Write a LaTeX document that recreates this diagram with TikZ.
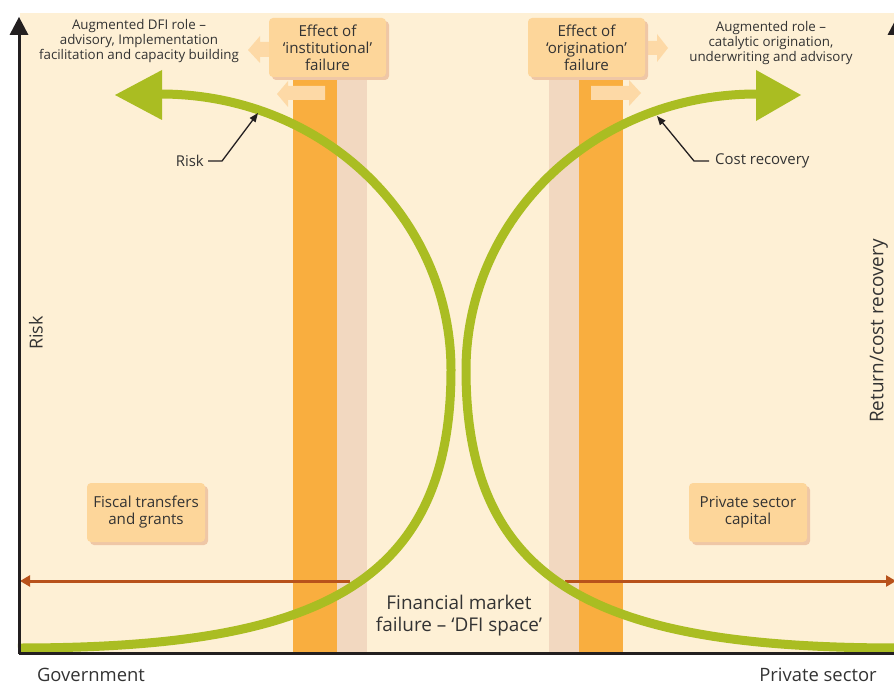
\documentclass[tikz,border=0pt]{standalone}
\usepackage{fontspec}
\setmainfont{Open Sans}
\usetikzlibrary{arrows.meta}
\definecolor{bg}{HTML}{FEF0D5}
\definecolor{barorange}{HTML}{F9AE3F}
\definecolor{barpink}{HTML}{F2D8C0}
\definecolor{boxfill}{HTML}{FDD69A}
\definecolor{boxshadow}{HTML}{EFC7A6}
\definecolor{arrfill}{HTML}{FDD9A6}
\definecolor{curvegreen}{HTML}{AABD22}
\definecolor{brown}{HTML}{B8521B}
\definecolor{axis}{HTML}{231F20}
\definecolor{txt}{HTML}{333333}
\tikzset{
  lbl/.style={text=txt, align=center, inner sep=0pt},
  toplbl/.style={lbl, font=\fontsize{13.4}{15.5}\selectfont},
  leadlbl/.style={lbl, font=\fontsize{15}{18}\selectfont},
  boxtxt/.style={lbl, font=\fontsize{15.2}{17}\selectfont},
  bigtxt/.style={lbl, font=\fontsize{19}{22}\selectfont},
  peachbox/.style={fill=boxfill, rounded corners=4bp},
  shadowbox/.style={fill=boxshadow, rounded corners=4bp},
  blockarrow/.style={fill=arrfill},
  greencurve/.style={draw=curvegreen, line width=9bp},
  greenhead/.style={fill=curvegreen},
  brownarrow/.style={draw=brown, line width=3bp, -{Triangle[length=10bp,width=11bp]}},
  leader/.style={draw=axis, line width=1.3bp, -{Triangle[length=9bp,width=7bp]}},
  axisline/.style={draw=axis, line width=3bp},
}
\begin{document}
\begin{tikzpicture}[x=1bp,y=-1bp]
\useasboundingbox (0,0) rectangle (894,684);
% background
\fill[bg] (20,13) rectangle (894,652);
% bars
\fill[barorange] (293,78) rectangle (337,652);
\fill[barpink] (337,78) rectangle (367,652);
\fill[barpink] (549,78) rectangle (579,652);
\fill[barorange] (579,78) rectangle (623,652);
% small block arrows
\fill[blockarrow] (272,42) -- (260,42) -- (260,36) -- (248,50) -- (260,63) -- (260,57) -- (272,57) -- cycle;
\fill[blockarrow] (325,86) -- (288,86) -- (288,81) -- (277,94) -- (288,107) -- (288,100) -- (325,100) -- cycle;
\fill[blockarrow] (644,41) -- (657,41) -- (657,34) -- (668,48) -- (657,62) -- (657,55) -- (644,55) -- cycle;
\fill[blockarrow] (591,86) -- (629,86) -- (629,80) -- (641,93) -- (629,106) -- (629,100) -- (591,100) -- cycle;
% boxes
\fill[shadowbox] (272,21) rectangle (389,80);
\fill[peachbox] (269,18) rectangle (386,77);
\node[boxtxt] (inst) at (327.5,48) {Effect of\\‘institutional’\\failure};
\fill[shadowbox] (531,21) rectangle (648,80);
\fill[peachbox] (528,18) rectangle (645,77);
\node[boxtxt] (orig) at (586.5,48) {Effect of\\‘origination’\\failure};
\fill[shadowbox] (90,486) rectangle (208,545);
\fill[peachbox] (87,483) rectangle (205,542);
\node[boxtxt] (fiscal) at (146,512) {Fiscal transfers\\and grants};
\fill[shadowbox] (692,486) rectangle (810,545);
\fill[peachbox] (689,483) rectangle (807,542);
\node[boxtxt] (priv) at (748,512) {Private sector\\capital};
% brown arrows
\coordinate (bl0) at (350,581);
\coordinate (bl1) at (20,581);
\coordinate (br0) at (565,581);
\coordinate (br1) at (896,581);
\draw[brownarrow] (bl0) -- (bl1);
\draw[brownarrow] (br0) -- (br1);
% green curves
\draw[greencurve] (18,648) .. controls (310,648) and (451,590) .. (451,370) .. controls (451,220) and (325,94) .. (160,94);
\fill[greenhead] (115,95) -- (162,70) -- (162,120) -- cycle;
\draw[greencurve] (899,648) .. controls (607,648) and (466,590) .. (466,370) .. controls (466,220) and (592,94) .. (757,94);
\fill[greenhead] (801,95) -- (756,70) -- (756,121) -- cycle;
% axes
\draw[axisline] (19,653.5) -- (894,653.5);
\draw[axisline] (19,653.5) -- (19,34);
\fill[axis] (19,17) -- (9.5,35) -- (28.5,35) -- cycle;
\fill[axis] (897,17) -- (887.5,35) -- (906.5,35) -- cycle;
% top labels
\node[toplbl] (augl) at (139,41) {Augmented DFI role –\\advisory, Implementation\\facilitation and capacity building};
\node[toplbl] (augr) at (771,43) {Augmented role –\\catalytic origination,\\underwriting and advisory};
% leader labels
\node[leadlbl, anchor=east] (risklbl) at (204,161) {Risk};
\coordinate (riskpt) at (258,113);
\draw[leader] (risklbl.east) ++(4,0) -- ++(14,0) -- (riskpt);
\node[leadlbl, anchor=west] (costlbl) at (715,161) {Cost recovery};
\coordinate (costpt) at (657,116);
\draw[leader] (costlbl.west) ++(-6,0) -- ++(-15,0) -- (costpt);
% center label
\node[bigtxt] (dfi) at (459,616) {Financial market\\failure – ‘DFI space’};
% axis labels
\node[lbl, font=\fontsize{18.5}{22}\selectfont, anchor=base] (gov) at (91,681) {Government};
\node[lbl, font=\fontsize{18.5}{22}\selectfont, anchor=base] (ps) at (818,681) {Private sector};
\node[lbl, font=\fontsize{18}{20}\selectfont, rotate=90] (riskax) at (36,333) {Risk};
\node[lbl, font=\fontsize{19}{20}\selectfont, rotate=90] (retax) at (879,331) {Return/cost recovery};
\end{tikzpicture}
\end{document}
